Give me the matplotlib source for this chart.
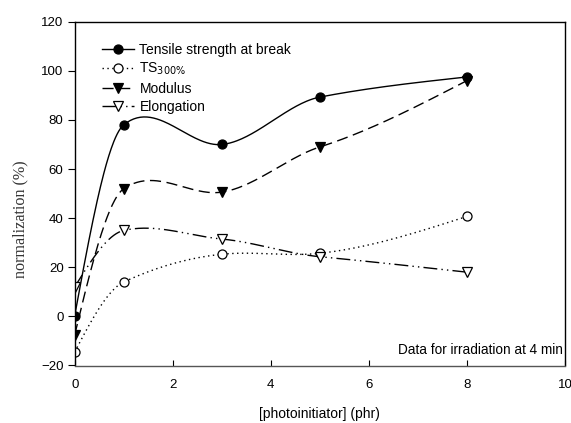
import numpy as np
import matplotlib.pyplot as plt

# photoinitiator loading (phr) and normalized properties (%), 4 min irradiation
phr = [0, 1, 3, 5, 8]
tensile = [0.3, 78, 70, 89.3, 97.5]
ts300 = [-14.5, 14, 25.3, 25.7, 40.7]
modulus = [-7.5, 52, 50.6, 69, 96]
elongation = [12, 35, 31.5, 24.3, 18]


def smooth(x, y, c=0.7, n=60):
    # cardinal (Hermite) spline through the points, natural ends
    x = np.asarray(x, float)
    y = np.asarray(y, float)
    m = np.zeros(len(x))
    for i in range(1, len(x) - 1):
        m[i] = c * (y[i + 1] - y[i - 1]) / (x[i + 1] - x[i - 1])
    d0 = (y[1] - y[0]) / (x[1] - x[0])
    dn = (y[-1] - y[-2]) / (x[-1] - x[-2])
    m[0] = (3 * d0 - m[1]) / 2
    m[-1] = (3 * dn - m[-2]) / 2
    xs, ys = [], []
    for i in range(len(x) - 1):
        h = x[i + 1] - x[i]
        t = np.linspace(0, 1, n)
        h00 = 2 * t**3 - 3 * t**2 + 1
        h10 = t**3 - 2 * t**2 + t
        h01 = -2 * t**3 + 3 * t**2
        h11 = t**3 - t**2
        xs.append(x[i] + t * h)
        ys.append(h00 * y[i] + h10 * h * m[i] + h01 * y[i + 1] + h11 * h * m[i + 1])
    return np.concatenate(xs), np.concatenate(ys)


plt.rcParams['font.family'] = ['Liberation Sans', 'DejaVu Sans']

fig = plt.figure(figsize=(5.71, 4.23), dpi=100)
ax = fig.add_axes([74.7 / 571, 1 - 365.5 / 423, (565 - 74.7) / 571, (365.5 - 21.7) / 423])

series = [
    ('Tensile strength at break', tensile, 'o', 'black', '-'),
    ('TS$_{300\\%}$', ts300, 'o', 'white', (0, (1, 2.5))),
    ('Modulus', modulus, 'v', 'black', (0, (8, 4))),
    ('Elongation', elongation, 'v', 'white', (0, (10, 3, 1, 3, 1, 3))),
]

for label, vals, mk, fc, ls in series:
    xs, ys = smooth(phr, vals)
    ax.plot(xs, ys, color='black', lw=1, linestyle=ls)
    ax.plot(phr, vals, linestyle='none', marker=mk, markersize=6.5,
            markerfacecolor=fc, markeredgecolor='black', markeredgewidth=0.9)
    # legend entry combines line style and marker
    ax.plot([], [], color='black', lw=1, linestyle=ls, marker=mk, markersize=6.5,
            markerfacecolor=fc, markeredgecolor='black', markeredgewidth=0.9, label=label)

ax.set_xlim(0, 10)
ax.set_ylim(-20, 120)
ax.set_xticks([0, 2, 4, 6, 8, 10])
ax.set_yticks(np.arange(-20, 121, 20))
ax.tick_params(axis='x', direction='in', length=4, labelsize=9.5, pad=10)
ax.tick_params(axis='y', direction='out', length=5, labelsize=9.5, pad=3)
for s in ax.spines.values():
    s.set_linewidth(1)
ax.spines['bottom'].set_color('#555555')

ax.set_xlabel('[photoinitiator] (phr)', fontsize=10, labelpad=11)
fig.text(20 / 571, 1 - 219 / 423, 'normalization (%)', rotation=90, ha='center', va='center',
         fontsize=11.6, family='Liberation Serif', color='#333333')

ax.text(0.996, 0.025, 'Data for irradiation at 4 min', transform=ax.transAxes,
        ha='right', va='bottom', fontsize=9.8)

ax.legend(loc='upper left', bbox_to_anchor=(0.03, 0.975), frameon=False, fontsize=10,
          handlelength=2.3, handletextpad=0.4, labelspacing=0.3)

fig.savefig('out.png', dpi=100)
